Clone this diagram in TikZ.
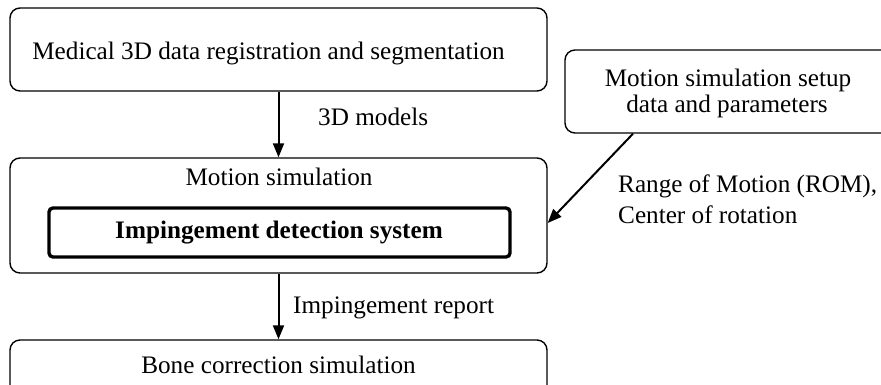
\documentclass[tikz,border=0pt]{standalone}
\usepackage{fontspec}
\setmainfont{Liberation Serif}
\usetikzlibrary{arrows.meta,calc}
\begin{document}
\begin{tikzpicture}[x=1pt,y=-1pt,
  box/.style={draw,line width=1.4pt,rounded corners=10pt,inner sep=0pt},
  corebox/.style={draw,line width=3.4pt,rounded corners=4pt,inner sep=0pt},
  txt/.style={anchor=base,inner sep=0pt,font=\fontsize{25.2}{30}\selectfont},
  ltxt/.style={txt,anchor=base west},
  flow/.style={line width=2pt,-{Triangle[length=14pt,width=11pt]}}]
\useasboundingbox (0,0) rectangle (881,384);

% process boxes
\node[box,minimum width=537pt,minimum height=83pt]  (b1) at (278.5,49.5) {};
\node[box,minimum width=537pt,minimum height=115pt] (b2) at (278.5,215.5) {};
\node[corebox,minimum width=461pt,minimum height=49pt] (b2i) at (279.5,232.5) {};
\node[box,minimum width=537pt,minimum height=64pt]  (b3) at (278.5,372) {};
\node[box,minimum width=344pt,minimum height=83pt]  (b4) at (737,91.5) {};

% box texts
\node[txt] (t1) at (268.5,59) {Medical 3D data registration and segmentation};
\node[txt] (t2) at (279,185) {Motion simulation};
\node[txt] (t2i) at (279,238) {\bfseries Impingement detection system};
\node[txt] (t3) at (278.5,373) {Bone correction simulation};
\node[txt] (t4a) at (728,86) {Motion simulation setup};
\node[txt] (t4b) at (727,112) {data and parameters};

% connectors
\draw[flow] (b1) -- (b2);
\draw[flow] (b2) -- (b3);
\draw[flow] (b4.south -| 633,0) -- (b2.east |- 0,223);

% connector labels
\node[ltxt] (l1) at (318,125) {3D models};
\node[ltxt] (l2) at (293,313) {Impingement report};
\node[ltxt] (l3a) at (618,192) {Range of Motion (ROM),};
\node[ltxt] (l3b) at (618,223) {Center of rotation};
\end{tikzpicture}
\end{document}
